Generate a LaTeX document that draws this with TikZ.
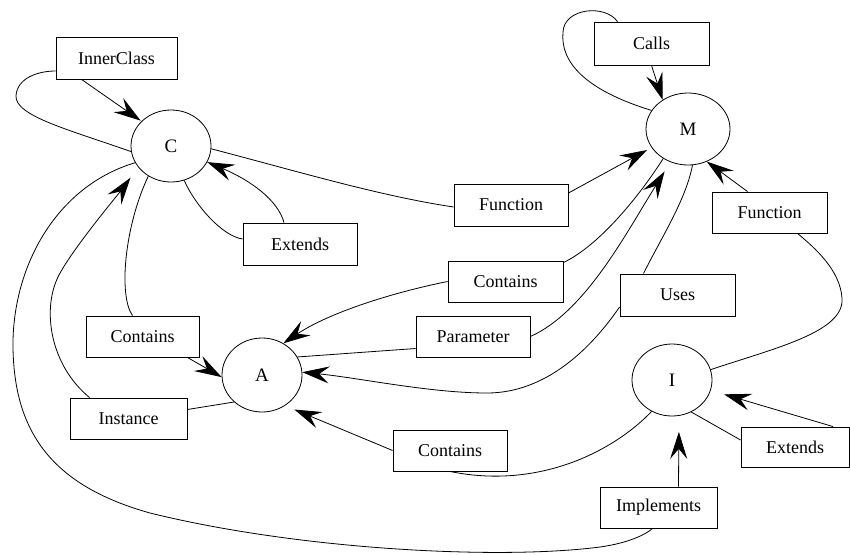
\documentclass[tikz,border=0pt]{standalone}
\usepackage{fontspec}
\setmainfont{Liberation Serif}
\usetikzlibrary{arrows.meta,shapes.geometric,calc}
\begin{document}
\begin{tikzpicture}[x=1pt,y=-1pt,
  lbl/.style={draw, rectangle, line width=0.9pt, inner sep=0pt, font=\fontsize{18}{20}\selectfont},
  ent/.style={draw, ellipse, line width=0.8pt, inner sep=0pt, font=\fontsize{19}{21}\selectfont},
  conn/.style={line width=0.8pt},
  arr/.style={line width=0.8pt, -{Stealth[length=27pt,width=17pt,inset=10pt]}}]
\useasboundingbox (0,0) rectangle (850,554);
% entities
\node[ent, minimum width=80pt, minimum height=72pt] (C) at (171,146) {C};
\node[ent, minimum width=84pt, minimum height=72pt] (M) at (688,129) {M};
\node[ent, minimum width=80pt, minimum height=74pt] (A) at (262,375) {A};
\node[ent, minimum width=80pt, minimum height=72pt] (I) at (672,380) {I};
% labels
\node[lbl, minimum width=121pt, minimum height=42pt] (inner) at (116.5,58) {InnerClass};
\node[lbl, minimum width=114pt, minimum height=42pt] (extC) at (300,244) {Extends};
\node[lbl, minimum width=115pt, minimum height=43pt] (calls) at (651.5,43.5) {Calls};
\node[lbl, minimum width=114pt, minimum height=42pt] (funcC) at (511,205) {Function};
\node[lbl, minimum width=115pt, minimum height=41pt] (funcR) at (769.5,212.5) {Function};
\node[lbl, minimum width=115pt, minimum height=41pt] (contU) at (505.5,281.5) {Contains};
\node[lbl, minimum width=114pt, minimum height=41pt] (param) at (473,336.5) {Parameter};
\node[lbl, minimum width=115pt, minimum height=42pt] (uses) at (677.5,295) {Uses};
\node[lbl, minimum width=113pt, minimum height=41pt] (contL) at (142.5,336.5) {Contains};
\node[lbl, minimum width=117pt, minimum height=41pt] (inst) at (128.5,418.5) {Instance};
\node[lbl, minimum width=114pt, minimum height=41pt] (contD) at (450,450.5) {Contains};
\node[lbl, minimum width=108pt, minimum height=40pt] (extI) at (795,447) {Extends};
\node[lbl, minimum width=117pt, minimum height=41pt] (impl) at (658.5,507.5) {Implements};
% C InnerClass C
\draw[conn] (C.188) .. controls (70,130) and (15,116) .. (16,96) .. controls (17,78) and (38,71) .. ([yshift=-13pt]inner.west);
\draw[arr, shorten >=1pt] ([xshift=26pt]inner.south west) -- (C.140);
% C Extends C
\draw[conn] (C.291) .. controls (195,205) and (222,236) .. ([yshift=5pt]extC.west);
\draw[arr] ([xshift=-16pt]extC.north) .. controls (278,200) and (250,180) .. (C.336);
% C Function M
\draw[conn] (C.356) .. controls (300,172) and (380,196) .. ([yshift=-2pt]funcC.west);
\draw[arr, shorten >=5pt] ([yshift=12pt]funcC.east) -- (M.207);
% M Calls M
\draw[conn] (M.153) .. controls (585,90) and (560,62) .. (563,32) .. controls (564,8) and (605,4) .. ([xshift=-34pt]calls.north);
\draw[arr] (calls.south) -- (M.131);
% I Function M
\draw[conn] (I.15) .. controls (775,348) and (845,332) .. (842,298) .. controls (840,270) and (815,248) .. ([xshift=28pt]funcR.south);
\draw[arr] ([xshift=-22pt]funcR.north) -- (M.300);
% M Uses A
\draw[conn] (M.277) .. controls (686,200) and (660,240) .. ([xshift=-34pt]uses.north);
\draw[arr] ([yshift=-12pt]uses.west) .. controls (590,350) and (545,393) .. (487,393) .. controls (430,393) and (360,378) .. (A.4);
% M Contains A
\draw[conn] (M.230) .. controls (640,195) and (600,245) .. ([yshift=-2pt]contU.north east);
\draw[arr] (contU.west) .. controls (395,292) and (330,312) .. (A.56);
% A Parameter M
\draw[conn] (A.27) -- ([yshift=-12pt]param.west);
\draw[arr, shorten >=11pt] (param.east) .. controls (585,312) and (625,235) .. (M.242);
% A Instance C
\draw[conn] (A.224) -- ([yshift=9pt]inst.east);
\draw[arr, shorten >=13pt] ([xshift=20pt]inst.north west) .. controls (50,365) and (42,310) .. (58,277) .. controls (70,252) and (120,192) .. (C.213);
% C Contains A
\draw[conn] (C.233) .. controls (125,225) and (118,295) .. ([xshift=-10pt]contL.north);
\draw[arr] ([xshift=-12pt]contL.south east) -- (A.183);
% I Contains A
\draw[conn] (I.237) .. controls (615,450) and (540,490) .. (contD.south);
\draw[arr, shorten >=10pt] (contD.west) -- (A.307);
% I Extends I
\draw[conn] (I.301) -- ([yshift=7pt]extI.west);
\draw[arr, shorten >=14pt] ([xshift=38pt]extI.north) -- (I.345);
% C Implements I
\draw[conn] (C.205) .. controls (60,185) and (15,260) .. (13,340) .. controls (12,430) and (50,485) .. (150,513) .. controls (300,550) and (500,560) .. (600,547) .. controls (628,543) and (645,535) .. ([xshift=-6pt]impl.south);
\draw[arr, shorten >=16pt] ([xshift=20pt]impl.north) -- (I.281);
\end{tikzpicture}
\end{document}
